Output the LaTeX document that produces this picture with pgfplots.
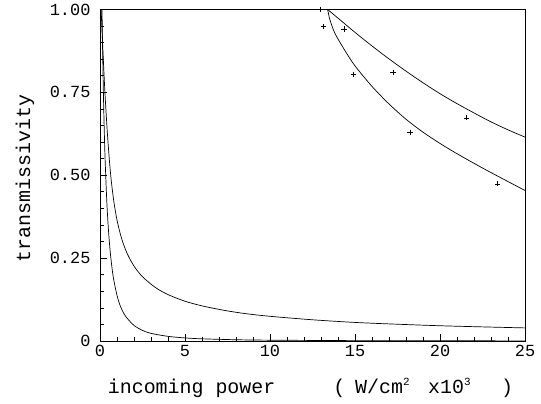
\documentclass[border=0pt]{standalone}
\usepackage{fontspec}
\usepackage{pgfplots}
\pgfplotsset{compat=1.18}
\newfontfamily\labelfont{Liberation Mono}
\newfontfamily\tickfont{Liberation Mono}

\begin{document}
\begin{tikzpicture}
\begin{axis}[
    scale only axis,
    width=425bp, height=331.5bp,
    xmin=0, xmax=25, ymin=0, ymax=1,
    xtick={0,5,...,25},
    ytick={0,0.25,0.5,0.75,1},
    yticklabels={0,0.25,0.50,0.75,1.00},
    minor x tick num=4,
    minor ytick={0.05,0.1,...,0.96},
    tick align=inside,
    xtick pos=left, ytick pos=left,
    major tick length=7bp, minor tick length=4bp,
    axis line style={line width=0.8bp},
    every tick/.style={black, line width=0.7bp},
    /pgf/number format/assume math mode=true,
    tick label style={font=\tickfont\fontsize{17}{17}\selectfont},
    yticklabel style={xshift=-6bp},
    xticklabel style={yshift=-1bp},
    xlabel={incoming power\hspace{58bp}(\hspace{10bp}W/cm\textsuperscript{\fontsize{11}{11}\selectfont 2}\hspace{18bp}x10\textsuperscript{\fontsize{11}{11}\selectfont 3}\hspace{30bp})},
    ylabel={transmissivity},
    every axis x label/.style={at={(axis description cs:0.5,0)}, yshift=-52bp, xshift=-2bp, anchor=base,
      font=\labelfont\fontsize{20}{20}\selectfont},
    every axis y label/.style={at={(axis description cs:0,0.49)}, xshift=-75bp, rotate=90, anchor=center,
      font=\labelfont\fontsize{20}{20}\selectfont},
  ]
  % lower left curve
  \addplot[black, line width=0.7bp, smooth] coordinates {
    (0.1,1.075) (0.12,0.994) (0.15,0.889) (0.2,0.748) (0.25,0.637)
    (0.3,0.549) (0.4,0.421) (0.5,0.333) (0.6,0.270) (0.7,0.223)
    (0.8,0.187) (1.0,0.138) (1.2,0.105) (1.5,0.075) (2,0.047)
    (2.5,0.032) (3,0.023) (4,0.014) (5,0.0093) (6,0.0066) (8,0.0038)
    (10,0.0025) (15,0.0011) (20,0.0006) (25,0.0004)
  };
  % upper left curve
  \addplot[black, line width=0.7bp, smooth] coordinates {
    (0.05,1.02) (0.15,0.9) (0.29,0.75) (0.45,0.615) (0.62,0.505)
    (0.8,0.426) (1,0.365) (1.25,0.313) (1.57,0.267) (2,0.226) (2.5,0.194)
    (3.24,0.162) (4,0.140) (5,0.120) (6,0.106) (7.25,0.093) (8.5,0.083)
    (10,0.0745) (12.5,0.064) (15,0.056) (17.5,0.0506) (20,0.046)
    (22.5,0.0426) (25,0.0395)
  };
  % upper right curve
  \addplot[black, line width=0.7bp, smooth] coordinates {
    (13.39,1.0) (14,0.974) (15,0.931) (16,0.890) (17,0.851) (18,0.814)
    (19,0.779) (20,0.746) (21,0.716) (22,0.688) (23,0.661) (24,0.637)
    (25,0.615)
  };
  % lower right curve
  \addplot[black, line width=0.7bp, smooth] coordinates {
    (13.39,1.0) (13.45,0.985) (13.53,0.968) (13.82,0.928) (14.41,0.876)
    (15,0.830) (16,0.768) (17,0.715) (18,0.669) (19,0.630) (20,0.596)
    (21,0.565) (22,0.536) (23,0.508) (24,0.481) (25,0.454)
  };
  % measurements
  \addplot[only marks, mark=+, mark size=2.6bp, black, line width=0.6bp] coordinates {
    (12.98,1.0) (13.14,0.948) (14.35,0.941) (14.9,0.805)
    (17.24,0.811) (18.24,0.63) (21.57,0.673) (23.39,0.474)
  };
\end{axis}
\path (current axis.south west) ++(-100bp,-63bp) coordinate (bbl);
\path (current axis.north east) ++(16bp,9.5bp) coordinate (btr);
\path (bbl) rectangle (btr);
\end{tikzpicture}
\end{document}
